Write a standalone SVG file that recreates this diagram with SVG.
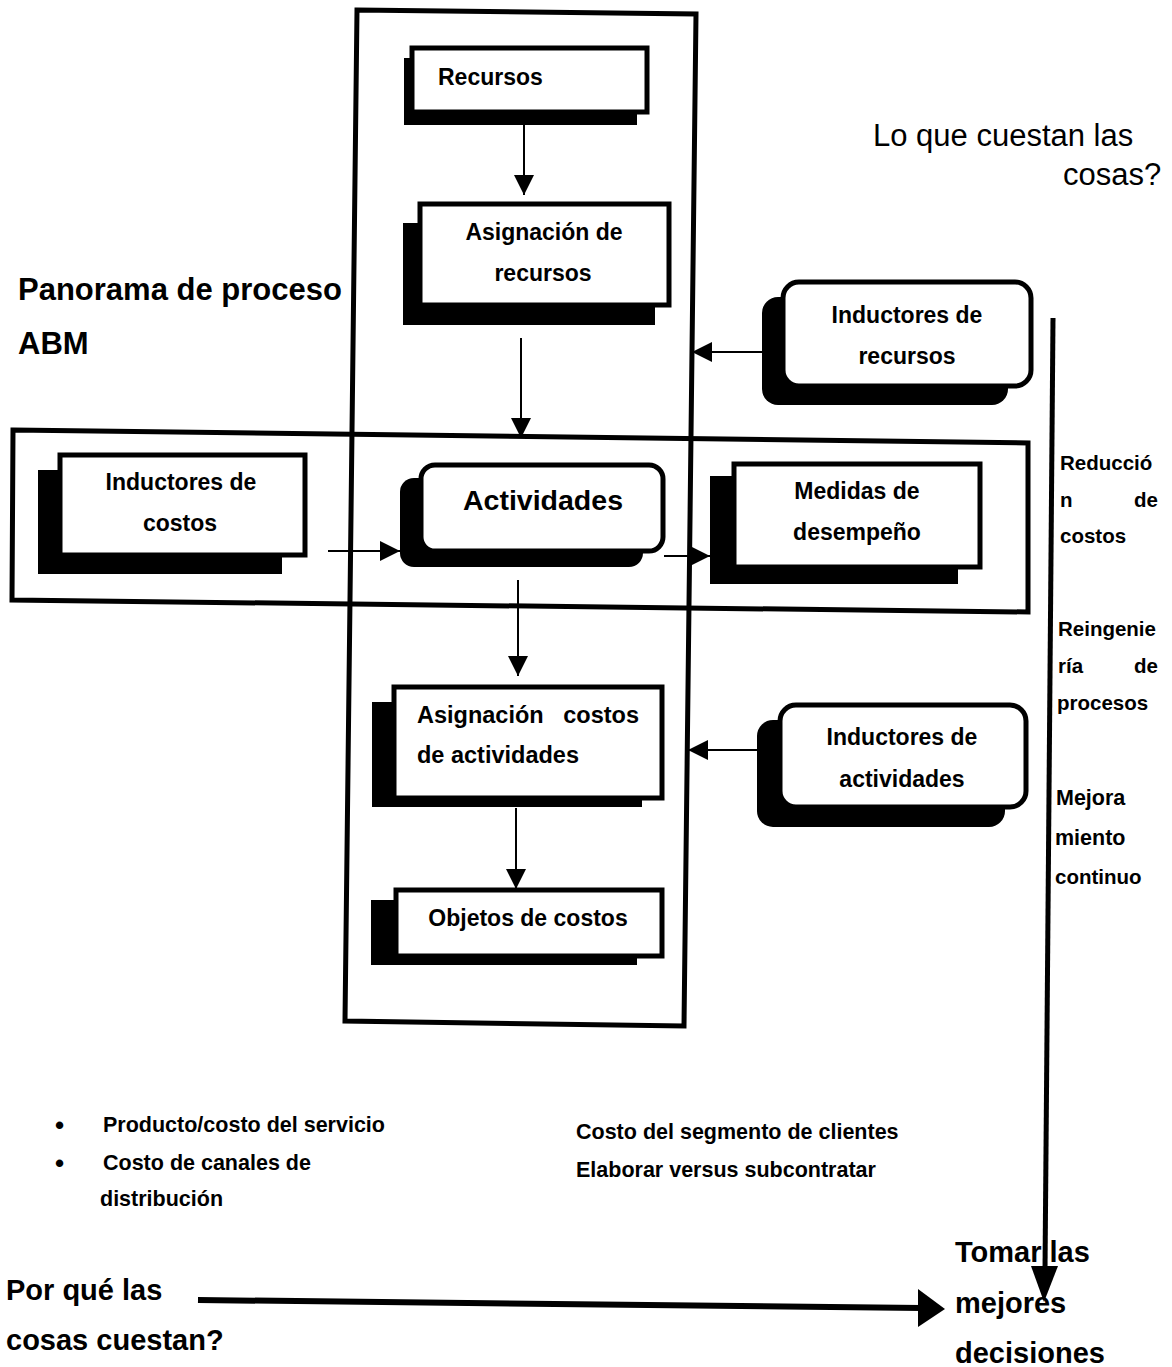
<svg xmlns="http://www.w3.org/2000/svg" width="1172" height="1367" viewBox="0 0 1172 1367">
<style>
.frame{fill:none;stroke:#000;stroke-width:5}
.sh{fill:#000}
.box{fill:#fff;stroke:#000;stroke-width:5}
.bt{font-family:"Liberation Sans",Arial,sans-serif;font-weight:bold;font-size:23px;fill:#000}
.c{text-anchor:middle}
.big{font-family:"Liberation Sans",Arial,sans-serif;font-size:31px;fill:#000}
.hd{font-family:"Liberation Sans",Arial,sans-serif;font-weight:bold;font-size:31px;fill:#000}
.bb{font-family:"Liberation Sans",Arial,sans-serif;font-weight:bold;font-size:29px;fill:#000}
.side{font-family:"Liberation Sans",Arial,sans-serif;font-weight:bold;font-size:20.5px;fill:#000}
.lst{font-family:"Liberation Sans",Arial,sans-serif;font-weight:bold;font-size:21.5px;fill:#000}
.ln{stroke:#000;stroke-width:2;fill:none}
</style>
<defs>
<marker id="ahm" viewBox="0 0 10 10" refX="10" refY="5" markerWidth="20" markerHeight="20" markerUnits="userSpaceOnUse" orient="auto"><path d="M0,0 L10,5 L0,10 z" fill="#000"/></marker>
</defs>
<rect width="1172" height="1367" fill="#fff"/>

<g id="frames">
<polygon class="frame" points="357,10 696,14 684,1026 345,1021"/>
<polygon class="frame" points="13,430 1028,443 1028,612 12,600"/>
</g>

<g id="recursos">
<rect class="sh" x="404" y="58" width="233" height="67"/>
<rect class="box" x="412" y="48" width="235" height="64"/>
<text class="bt" x="438" y="85">Recursos</text>
</g>

<g id="asignacion-recursos">
<rect class="sh" x="403" y="223" width="252" height="102"/>
<rect class="box" x="420" y="204" width="249" height="101"/>
<text class="bt c" x="544" y="240">Asignación de</text>
<text class="bt c" x="543" y="281">recursos</text>
</g>

<g id="inductores-recursos">
<rect class="sh" x="762" y="297" width="246" height="108" rx="16"/>
<rect class="box" x="783" y="282" width="248" height="104" rx="16"/>
<text class="bt c" x="907" y="323">Inductores de</text>
<text class="bt c" x="907" y="364">recursos</text>
</g>

<g id="inductores-costos">
<rect class="sh" x="38" y="470" width="244" height="104"/>
<rect class="box" x="60" y="455" width="245" height="100"/>
<text class="bt c" x="181" y="490">Inductores de</text>
<text class="bt c" x="180" y="531">costos</text>
</g>

<g id="actividades">
<rect class="sh" x="400" y="478" width="243" height="89" rx="14"/>
<rect class="box" x="421" y="465" width="242" height="86" rx="14"/>
<text class="bt c" x="543" y="510" style="font-size:28.5px">Actividades</text>
</g>

<g id="medidas">
<rect class="sh" x="710" y="476" width="248" height="108"/>
<rect class="box" x="734" y="464" width="246" height="103"/>
<text class="bt c" x="857" y="499">Medidas de</text>
<text class="bt c" x="857" y="540">desempeño</text>
</g>

<g id="asignacion-costos">
<rect class="sh" x="372" y="702" width="270" height="105"/>
<rect class="box" x="394" y="687" width="268" height="111"/>
<text class="bt" x="417" y="723" style="white-space:pre;font-size:23.5px" xml:space="preserve">Asignación   costos</text>
<text class="bt" x="417" y="763" style="font-size:23.5px">de actividades</text>
</g>

<g id="inductores-actividades">
<rect class="sh" x="757" y="720" width="248" height="107" rx="16"/>
<rect class="box" x="780" y="705" width="246" height="102" rx="16"/>
<text class="bt c" x="902" y="745">Inductores de</text>
<text class="bt c" x="902" y="787">actividades</text>
</g>

<g id="objetos">
<rect class="sh" x="371" y="900" width="266" height="65"/>
<rect class="box" x="396" y="890" width="266" height="66"/>
<text class="bt c" x="528" y="926">Objetos de costos</text>
</g>

<g id="connectors">
<line class="ln" x1="524" y1="125" x2="524" y2="195" marker-end="url(#ahm)"/>
<line class="ln" x1="521" y1="338" x2="521" y2="438" marker-end="url(#ahm)"/>
<line class="ln" x1="762" y1="352" x2="692" y2="352" marker-end="url(#ahm)"/>
<line class="ln" x1="328" y1="551" x2="400" y2="551" marker-end="url(#ahm)"/>
<line class="ln" x1="664" y1="556" x2="710" y2="556" marker-end="url(#ahm)"/>
<line class="ln" x1="518" y1="580" x2="518" y2="676" marker-end="url(#ahm)"/>
<line class="ln" x1="757" y1="750" x2="688" y2="750" marker-end="url(#ahm)"/>
<line class="ln" x1="516" y1="808" x2="516" y2="889" marker-end="url(#ahm)"/>
<path d="M1053,318 L1045,1270" stroke="#000" stroke-width="5" fill="none"/>
<polygon points="1031,1266 1058,1266 1044,1302"/>
<path d="M198,1300 L922,1308" stroke="#000" stroke-width="6" fill="none"/>
<polygon points="918,1289 945,1309 918,1327"/>
</g>

<g id="labels">
<text class="big" x="873" y="146">Lo que cuestan las</text>
<text class="big" x="1063" y="185">cosas?</text>
<text class="hd" x="18" y="300">Panorama de proceso</text>
<text class="hd" x="18" y="354">ABM</text>

<text class="side" x="1060" y="470">Reducció</text>
<text class="side" x="1060" y="507">n</text>
<text class="side" x="1158" y="507" text-anchor="end">de</text>
<text class="side" x="1060" y="543">costos</text>
<text class="side" x="1058" y="636">Reingenie</text>
<text class="side" x="1058" y="673">ría</text>
<text class="side" x="1158" y="673" text-anchor="end">de</text>
<text class="side" x="1057" y="710">procesos</text>
<text class="side" x="1056" y="805" style="font-size:21.5px">Mejora</text>
<text class="side" x="1055" y="845" style="font-size:21.5px">miento</text>
<text class="side" x="1055" y="884">continuo</text>

<text class="lst" x="55" y="1134" style="font-size:26px">•</text>
<text class="lst" x="103" y="1132">Producto/costo del servicio</text>
<text class="lst" x="55" y="1172" style="font-size:26px">•</text>
<text class="lst" x="103" y="1170">Costo de canales de</text>
<text class="lst" x="100" y="1206">distribución</text>
<text class="lst" x="576" y="1139">Costo del segmento de clientes</text>
<text class="lst" x="576" y="1177">Elaborar versus subcontratar</text>

<text class="bb" x="6" y="1300">Por qué las</text>
<text class="bb" x="6" y="1350">cosas cuestan?</text>
<text class="bb" x="955" y="1262">Tomar las</text>
<text class="bb" x="955" y="1313">mejores</text>
<text class="bb" x="955" y="1363">decisiones</text>
</g>
</svg>
